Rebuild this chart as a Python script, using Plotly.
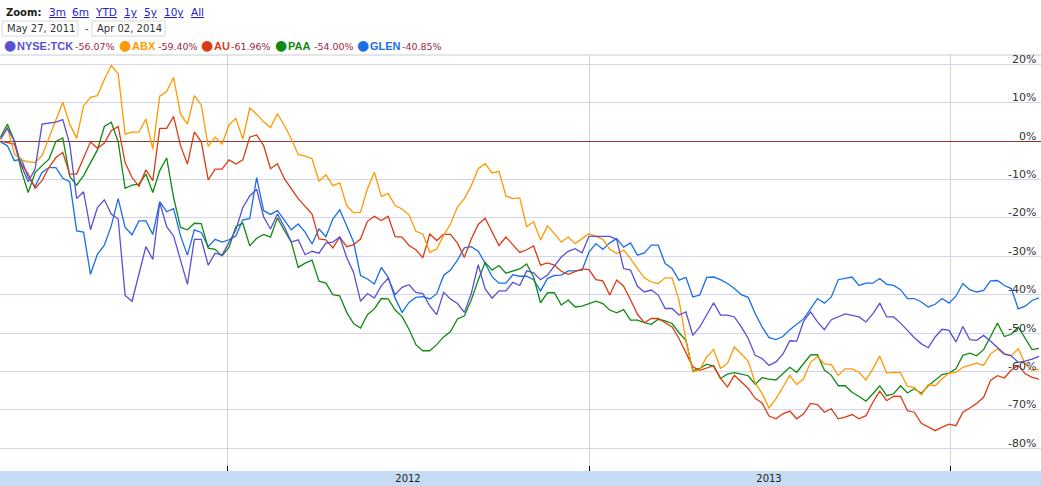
import pandas as pd
import plotly.graph_objects as go

# weekly closes, % change since start
dates = pd.date_range("2011-05-16", periods=151, freq="7D")

tck = [0.5, 3.3, 0.1, -6.4, -10.6, -7.3, 4.4, 4.7, 4.9, 5.6,
       -0.8, -15.0, -13.2, -23.1, -17.3, -15.3, -19.0, -20.3, -40.2, -41.7,
       -34.7, -27.5, -30.8, -16.0, -22.3, -24.7, -31.0, -37.3, -25.6, -25.6,
       -32.3, -29.2, -29.7, -26.4, -23.1, -17.3, -14.3, -12.6, -19.7, -22.9,
       -19.0, -22.3, -26.3, -25.7, -29.6, -28.7, -29.2, -26.6, -26.3, -25.0,
       -30.3, -34.2, -41.7, -39.7, -40.9, -37.7, -35.7, -40.0, -38.1, -37.4,
       -39.4, -39.7, -42.9, -45.2, -39.4, -41.1, -42.3, -44.6, -39.7, -32.2,
       -38.5, -40.9, -39.0, -39.0, -36.8, -37.6, -33.8, -34.3, -36.1, -34.9,
       -32.6, -30.2, -28.7, -28.0, -29.1, -24.8, -24.8, -24.8, -24.8, -25.6,
       -33.2, -33.6, -37.8, -39.3, -38.8, -40.1, -43.6, -43.6, -45.3, -44.5,
       -50.6, -48.4, -45.1, -42.1, -45.3, -45.3, -45.8, -48.4, -51.4, -55.8,
       -56.6, -58.4, -57.5, -55.5, -52.0, -52.1, -46.9, -44.5, -47.1, -49.1,
       -46.5, -45.7, -45.0, -45.4, -45.8, -47.1, -45.0, -42.2, -45.8, -45.8,
       -47.4, -49.3, -51.2, -52.8, -53.8, -51.0, -49.0, -49.3, -52.3, -48.3,
       -51.7, -51.9, -50.6, -52.1, -53.8, -55.4, -55.9, -57.6, -57.3, -56.8,
       -56.07]

abx = [0.5, 3.6, -3.4, -4.9, -5.4, -5.6, -3.8, 1.0, 5.3, 10.1,
       4.4, 0.7, 9.2, 11.4, 11.8, 16.0, 19.7, 17.5, 1.8, 2.3,
       2.3, 5.7, -2.1, 11.7, 12.9, 16.6, 7.0, 4.4, 11.8, 9.4,
       -1.4, 1.0, -0.8, 4.2, 5.9, 0.5, 8.6, 7.0, 5.0, 3.5,
       7.1, 4.1, 0.6, -3.5, -3.9, -4.6, -10.4, -8.8, -11.6, -10.9,
       -16.8, -18.7, -18.5, -12.4, -8.1, -14.4, -13.7, -16.8, -17.7, -19.2,
       -23.5, -24.2, -29.0, -28.1, -24.6, -21.6, -17.2, -15.0, -11.6, -7.2,
       -5.9, -8.3, -7.9, -14.3, -15.0, -14.8, -22.3, -21.0, -25.8, -22.1,
       -24.1, -26.3, -25.0, -26.7, -25.4, -24.1, -24.8, -25.6, -28.2, -29.3,
       -28.4, -30.6, -33.2, -35.6, -36.7, -37.1, -35.6, -35.6, -41.4, -51.9,
       -60.1, -59.5, -56.2, -54.3, -59.2, -57.9, -53.6, -55.5, -57.3, -63.0,
       -65.7, -69.5, -67.1, -64.1, -61.0, -63.4, -61.9, -57.6, -56.1, -58.0,
       -58.2, -61.0, -59.3, -59.3, -60.2, -62.2, -59.3, -56.0, -60.4, -60.2,
       -60.3, -63.9, -64.1, -66.1, -63.4, -63.7, -61.9, -60.4, -60.2, -58.9,
       -58.4, -57.8, -58.4, -55.4, -54.1, -55.6, -55.8, -54.1, -58.0, -59.7,
       -59.40]

au = [0.0, -0.5, -0.8, -6.0, -8.6, -12.3, -10.3, -6.9, -4.3, -3.0,
      -8.6, -8.6, -4.3, -0.2, -1.9, -0.5, 2.7, 3.8, -5.6, -9.5,
      -11.8, -7.5, -10.3, 3.3, 3.3, 6.4, -1.2, -6.0, 2.4, -0.2,
      -10.1, -7.3, -7.3, -4.9, -6.0, -4.9, 1.0, 1.6, -1.1, -7.2,
      -5.9, -9.8, -12.4, -15.0, -17.0, -19.0, -25.5, -25.7, -27.8, -25.0,
      -27.5, -27.0, -25.5, -20.9, -19.6, -20.7, -19.6, -24.9, -25.0, -27.2,
      -28.3, -30.4, -24.2, -25.9, -24.3, -24.3, -26.6, -30.3, -25.5, -21.7,
      -20.1, -23.5, -27.2, -25.0, -27.0, -29.0, -28.3, -27.3, -32.3, -31.7,
      -32.3, -33.9, -34.7, -34.0, -33.3, -33.5, -36.1, -36.4, -40.1, -36.2,
      -37.8, -41.3, -45.1, -47.3, -46.2, -46.2, -47.3, -48.4, -51.4, -55.2,
      -58.8, -59.7, -59.0, -58.5, -61.8, -64.0, -61.0, -62.7, -64.4, -67.0,
      -68.2, -71.6, -72.3, -71.0, -70.3, -72.3, -71.0, -68.3, -68.6, -70.6,
      -69.7, -72.3, -71.9, -71.2, -72.3, -71.5, -68.0, -65.1, -67.6, -66.4,
      -66.5, -70.2, -70.6, -73.5, -74.5, -75.4, -74.5, -73.7, -74.1, -70.6,
      -69.5, -68.3, -66.7, -62.3, -61.1, -61.7, -59.6, -58.4, -60.6, -61.5,
      -61.96]

paa = [1.0, 4.4, 0.1, -7.7, -13.4, -8.2, -6.4, -4.7, -0.1, 0.8,
       -9.2, -11.5, -9.0, -5.7, -2.3, 3.8, 4.9, -0.2, -12.3, -11.5,
       -11.2, -8.6, -13.4, -7.7, -4.4, -14.7, -22.5, -23.1, -21.4, -21.5,
       -27.9, -28.2, -29.9, -27.7, -22.3, -21.4, -27.3, -25.3, -24.3, -25.0,
       -20.0, -23.3, -26.3, -32.9, -31.8, -31.0, -36.5, -37.0, -40.0, -40.3,
       -44.6, -47.5, -48.7, -45.2, -43.7, -41.0, -41.1, -44.0, -45.7, -49.0,
       -53.0, -54.6, -54.6, -53.0, -51.0, -49.6, -46.3, -45.5, -41.4, -36.2,
       -31.6, -33.6, -32.4, -34.4, -33.9, -33.3, -32.0, -35.4, -42.1, -39.5,
       -39.5, -42.7, -41.4, -43.2, -43.0, -42.3, -41.7, -42.3, -44.0, -44.7,
       -43.9, -46.6, -46.6, -47.3, -47.7, -46.4, -46.8, -47.5, -49.9, -51.9,
       -59.8, -59.2, -58.1, -58.6, -61.8, -60.7, -60.3, -60.7, -61.1, -63.3,
       -61.6, -62.0, -62.2, -60.6, -58.9, -60.2, -58.0, -55.7, -55.6, -59.6,
       -61.0, -63.7, -63.7, -65.4, -66.5, -67.7, -65.8, -63.7, -66.3, -65.8,
       -63.7, -65.6, -64.5, -65.7, -63.7, -62.3, -60.8, -60.4, -59.3, -55.8,
       -55.2, -55.9, -54.3, -50.9, -47.4, -50.9, -50.3, -48.4, -51.2, -54.3,
       -54.00]

glen = [-0.2, -1.2, -5.1, -4.7, -9.5, -11.8, -8.2, -6.9, -6.9, -9.7,
        -10.6, -23.4, -23.7, -34.7, -29.5, -27.1, -22.1, -15.0, -22.5, -24.4,
        -20.8, -20.8, -24.3, -15.8, -18.4, -17.6, -24.7, -29.7, -23.1, -23.8,
        -27.5, -25.6, -26.3, -25.7, -24.7, -20.5, -20.2, -9.5, -18.1, -19.1,
        -18.1, -20.7, -23.1, -21.6, -23.7, -26.8, -22.9, -24.9, -20.3, -17.9,
        -22.0, -26.3, -35.0, -35.9, -37.2, -32.9, -35.5, -40.9, -44.6, -42.0,
        -40.7, -40.5, -41.1, -39.8, -35.0, -33.6, -31.0, -27.8, -27.5, -28.7,
        -31.8, -35.3, -37.0, -37.0, -34.8, -35.2, -35.2, -36.1, -39.0, -35.8,
        -35.0, -34.9, -33.8, -33.8, -33.6, -28.9, -26.7, -28.2, -26.5, -25.4,
        -27.6, -26.5, -29.7, -29.1, -27.1, -27.1, -31.9, -33.2, -36.2, -35.5,
        -40.6, -40.1, -35.5, -35.4, -36.1, -37.1, -38.4, -40.0, -40.7, -44.9,
        -48.4, -51.2, -51.7, -50.9, -49.1, -47.6, -46.3, -43.7, -41.0, -42.2,
        -40.6, -36.1, -35.8, -35.4, -37.6, -37.0, -37.0, -35.8, -37.3, -37.6,
        -38.7, -41.0, -41.0, -41.9, -43.2, -42.5, -41.0, -42.2, -40.4, -37.1,
        -38.7, -39.3, -38.9, -36.4, -36.3, -37.6, -38.4, -43.7, -43.0, -41.5,
        -40.85]

names = ["NYSE:TCK", "ABX", "AU", "PAA", "GLEN"]
changes = ["-56.07%", "-59.40%", "-61.96%", "-54.00%", "-40.85%"]
colors = ["#5a4fd3", "#ff9900", "#dc3c14", "#128a12", "#1a6fe6"]
series = [tck, abx, au, paa, glen]

y_ticks = [20, 10, 0, -10, -20, -30, -40, -50, -60, -70, -80]
y_labels = ["20%", "10%", "0%", "-10%", "-20%", "-30%", "-40%", "-50%", "-60%", "-70%", "-80%"]
year_starts = ["2012-01-01", "2013-01-01", "2014-01-01"]
year_mids = ["2012-07-01", "2013-07-01"]
year_labels = ["2012", "2013"]
zoom_links = ["3m", "6m", "YTD", "1y", "5y", "10y", "All"]
date_from = "May 27, 2011"
date_to = "Apr 02, 2014"

W, H = 1041, 486
TOP, BOT = 55, 471


def px(x):
    return x / W


def py(y):
    return (BOT - y) / (BOT - TOP)


fig = go.Figure()
# draw in reverse so TCK sits on top like the original
for name, vals, col in reversed(list(zip(names, series, colors))):
    fig.add_trace(go.Scatter(x=dates, y=vals, name=name, mode="lines",
                             line=dict(color=col, width=1.3)))

ann = []
ann.append(dict(x=px(4), y=py(12), text="<b>Zoom:</b>", font=dict(size=10, color="#222")))
link_x = [47, 70, 93, 122, 142, 162, 189]
for lx, lab in zip(link_x, zoom_links):
    ann.append(dict(x=px(lx), y=py(12), text="<u>" + lab + "</u>",
                    font=dict(size=10.5, color="#2222cc")))
ann.append(dict(x=px(5), y=py(28.5), text=date_from, font=dict(size=10, color="#333")))
ann.append(dict(x=px(83), y=py(28.5), text="-", font=dict(size=10, color="#333")))
ann.append(dict(x=px(95), y=py(28.5), text=date_to, font=dict(size=10, color="#333")))

leg_dot = [3, 118, 200, 274, 356]
leg_pct = [73, 156, 229, 312, 400]
for i in range(5):
    ann.append(dict(x=px(leg_dot[i] - 1), y=py(45), text="●",
                    font=dict(size=14, color=colors[i], family="DejaVu Sans")))
    ann.append(dict(x=px(leg_dot[i] + 12), y=py(46), text="<b>" + names[i] + "</b>",
                    font=dict(size=11, color=colors[i], family="Liberation Sans")))
    ann.append(dict(x=px(leg_pct[i]), y=py(46.5), text=changes[i],
                    font=dict(size=9.5, color="#a01e46")))
for a in ann:
    a.update(xref="paper", yref="paper", xanchor="left", yanchor="middle", showarrow=False)

# right-hand % labels sit just above their grid lines
for v, lab in zip(y_ticks, y_labels):
    ann.append(dict(x=1, xref="paper", y=v, yref="y", text=lab, showarrow=False,
                    xanchor="right", yanchor="middle", xshift=-3, yshift=5,
                    font=dict(size=11, color="#333")))

shapes = [
    dict(type="rect", xref="paper", yref="paper", x0=0, x1=1, y0=py(486), y1=0,
         fillcolor="#c6dcf4", line=dict(width=0), layer="below"),
    dict(type="line", xref="paper", yref="paper", x0=0, x1=1, y0=1, y1=1,
         line=dict(color="#cccccc", width=1)),
    dict(type="rect", xref="paper", yref="paper", x0=px(2), x1=px(78), y0=py(21), y1=py(36),
         line=dict(color="#d8d8d8", width=1)),
    dict(type="rect", xref="paper", yref="paper", x0=px(92), x1=px(165), y0=py(21), y1=py(36),
         line=dict(color="#d8d8d8", width=1)),
]

fig.update_layout(
    width=W, height=H,
    margin=dict(l=0, r=0, t=TOP, b=H - BOT),
    paper_bgcolor="white", plot_bgcolor="white",
    showlegend=False, hovermode=False,
    font=dict(family="DejaVu Sans", size=10, color="#333"),
    annotations=ann, shapes=shapes,
    xaxis=dict(type="date", range=["2011-05-15 12:00", "2014-04-02"],
               tickmode="array", tickvals=year_mids, ticktext=year_labels, ticks="",
               showgrid=False, zeroline=False, showline=False,
               tickfont=dict(size=10, color="#222"),
               minor=dict(tickvals=year_starts, showgrid=True, gridcolor="#d2d2da",
                          gridwidth=1, ticks="inside", ticklen=5, tickcolor="#000",
                          tickwidth=1)),
    yaxis=dict(side="right", range=[-85.9, 22.4], tickmode="array",
               tickvals=y_ticks, showticklabels=False,
               ticks="", showgrid=True, gridcolor="#d4d4ee", gridwidth=1,
               zeroline=True, zerolinecolor="#8b3a3a", zerolinewidth=1),
)

# page body has a default margin; drop it so the chart fills the window
fig.write_html("out.html", config={"displayModeBar": False},
               post_script="document.body.style.margin='0';")
